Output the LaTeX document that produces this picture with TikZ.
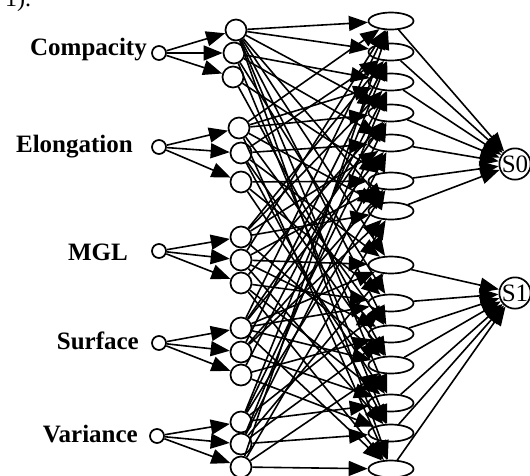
\documentclass[tikz,border=0pt]{standalone}
\usepackage{fontspec}
\setmainfont{Liberation Serif}
\usetikzlibrary{arrows.meta,shapes.geometric}

\tikzset{
  input/.style={shape=circle,draw=black,line width=1.7pt,minimum size=14pt,inner sep=0pt},
  member/.style={shape=circle,draw=black,line width=1.7pt,minimum size=21pt,inner sep=0pt},
  rulenode/.style={shape=ellipse,draw=black,line width=1.7pt,minimum width=45pt,minimum height=17pt,inner sep=0pt},
  outnode/.style={shape=circle,draw=black,line width=1.7pt,minimum size=26pt,inner sep=0pt,font=\fontsize{25}{27}\selectfont},
  lbl/.style={anchor=east,inner sep=0pt,font=\fontsize{25}{30}\selectfont\bfseries},
  link/.style={line width=1.6pt,-{Triangle[length=19pt,width=15pt]}},
}

\begin{document}
\begin{tikzpicture}[x=1pt,y=-1pt]
  \useasboundingbox (0,0) rectangle (530,475);
  \node[anchor=base west,inner sep=0pt,font=\fontsize{24}{28}\selectfont] (cap) at (5,6) {1).};

  % inputs
  \node[input] (comp) at (159,53) {};
  \node[input] (elong) at (159,147) {};
  \node[input] (mgl) at (159,251) {};
  \node[input] (surf) at (159,343) {};
  \node[input] (var) at (157,436) {};
  \node[lbl] (lcomp) at (147,50) {Compacity};
  \node[lbl] (lelong) at (133,147) {Elongation};
  \node[lbl] (lmgl) at (128,252) {MGL};
  \node[lbl] (lsurf) at (139,341) {Surface};
  \node[lbl] (lvar) at (138,434) {Variance};

  % membership functions
  \node[member] (comp1) at (236,30) {};
  \node[member] (comp2) at (234,53) {};
  \node[member] (comp3) at (233,77) {};
  \node[member] (elong1) at (239,128) {};
  \node[member] (elong2) at (241,153) {};
  \node[member] (elong3) at (241,182) {};
  \node[member] (mgl1) at (241,237) {};
  \node[member] (mgl2) at (241,260) {};
  \node[member] (mgl3) at (241,283) {};
  \node[member] (surf1) at (241,328) {};
  \node[member] (surf2) at (241,352) {};
  \node[member] (surf3) at (241,375) {};
  \node[member] (var1) at (241,422) {};
  \node[member] (var2) at (241,444) {};
  \node[member] (var3) at (241,467) {};

  % rules
  \foreach \i/\y in {1/21,2/52,3/82,4/113,5/143,6/181,7/211,
                     8/265,9/303,10/334,11/365,12/403,13/433,14/469}
    \node[rulenode] (h\i) at (391,\y) {};

  % outputs
  \node[outnode] (s0) at (515,164) {S0};
  \node[outnode] (s1) at (515,293) {S1};

  \foreach \n in {comp,elong,mgl,surf,var}
    \foreach \k in {1,2,3}
      \path[link] (\n) edge (\n\k);

  \foreach \i/\c/\e/\m/\s/\v in {1/1/1/2/1/3,2/1/2/1/2/1,3/2/1/1/3/2,4/1/1/3/1/1,
                                 5/2/2/1/1/2,6/3/3/2/2/1,7/1/1/1/2/3,8/1/2/2/1/2,
                                 9/2/3/3/1/1,10/1/1/2/3/2,11/3/2/1/1/3,12/1/3/3/2/1,
                                 13/2/2/2/3/2,14/1/1/3/1/3}{
    \path[link] (comp\c) edge (h\i);
    \path[link] (elong\e) edge (h\i);
    \path[link] (mgl\m) edge (h\i);
    \path[link] (surf\s) edge (h\i);
    \path[link] (var\v) edge (h\i);
  }

  \foreach \i in {1,...,7}
    \path[link] (h\i) edge (s0);
  \foreach \i in {8,...,14}
    \path[link] (h\i) edge (s1);

\end{tikzpicture}
\end{document}
